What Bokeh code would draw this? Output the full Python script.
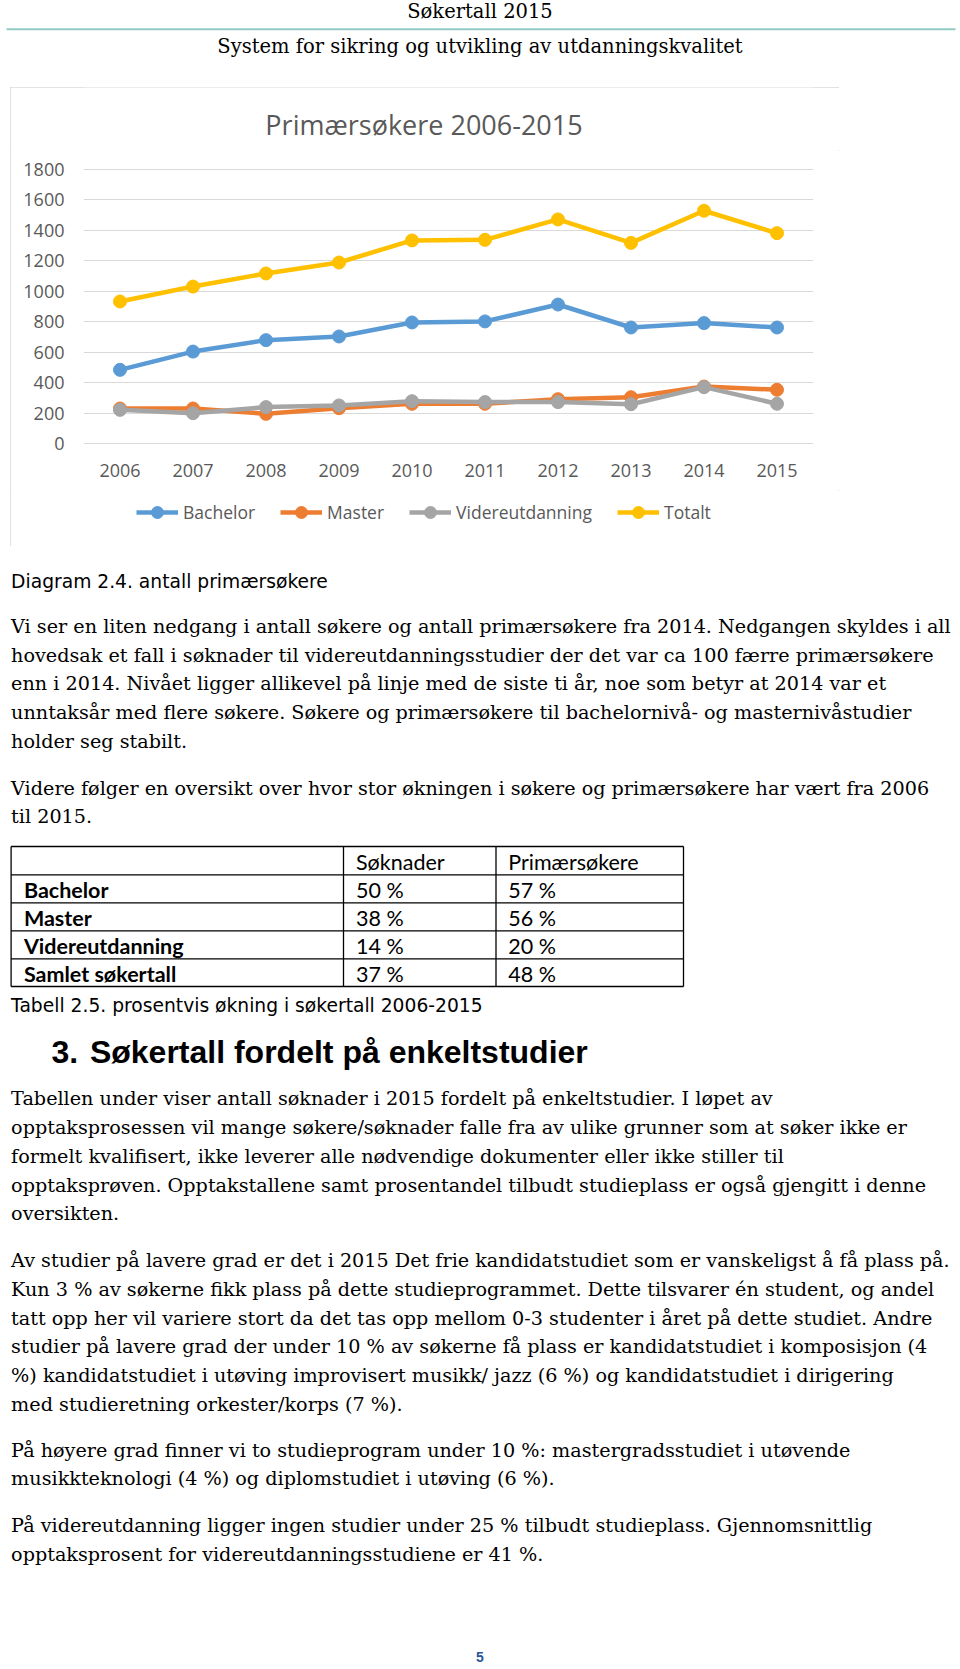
from bokeh.plotting import figure
from bokeh.models import (Range1d, FactorRange, Legend, LegendItem, SingleIntervalTicker)
from bokeh.layouts import column
from bokeh.embed import file_html
from bokeh.resources import INLINE
from bokeh.core.properties import value

# ---------------- data ----------------
years = ["2006", "2007", "2008", "2009", "2010", "2011", "2012", "2013", "2014", "2015"]
bachelor = [484, 604, 679, 703, 795, 802, 913, 762, 791, 762]
master = [230, 230, 195, 232, 261, 261, 291, 304, 374, 353]
videreutdanning = [221, 199, 239, 250, 278, 272, 272, 258, 370, 261]
totalt = [933, 1031, 1117, 1189, 1334, 1338, 1472, 1318, 1529, 1382]
series_names = ["Bachelor", "Master", "Videreutdanning", "Totalt"]
series_colors = ["#5B9BD5", "#ED7D31", "#A5A5A5", "#FFC000"]
chart_title = "Primærsøkere 2006-2015"

header_top = "Søkertall 2015"
header_sub = "System for sikring og utvikling av utdanningskvalitet"

diagram_caption = "Diagram 2.4. antall primærsøkere"
para1 = [
    "Vi ser en liten nedgang i antall søkere og antall primærsøkere fra 2014. Nedgangen skyldes i all",
    "hovedsak et fall i søknader til videreutdanningsstudier der det var ca 100 færre primærsøkere",
    "enn i 2014. Nivået ligger allikevel på linje med de siste ti år, noe som betyr at 2014 var et",
    "unntaksår med flere søkere. Søkere og primærsøkere til bachelornivå- og masternivåstudier",
    "holder seg stabilt.",
]
para2 = [
    "Videre følger en oversikt over hvor stor økningen i søkere og primærsøkere har vært fra 2006",
    "til 2015.",
]
table_cols = ["Søknader", "Primærsøkere"]
table_rows = ["Bachelor", "Master", "Videreutdanning", "Samlet søkertall"]
table_soknader = [50, 38, 14, 37]
table_primaer = [57, 56, 20, 48]
table_caption = "Tabell 2.5. prosentvis økning i søkertall 2006-2015"
heading_num = "3."
heading_text = "Søkertall fordelt på enkeltstudier"
para3 = [
    "Tabellen under viser antall søknader i 2015 fordelt på enkeltstudier. I løpet av",
    "opptaksprosessen vil mange søkere/søknader falle fra av ulike grunner som at søker ikke er",
    "formelt kvalifisert, ikke leverer alle nødvendige dokumenter eller ikke stiller til",
    "opptaksprøven.  Opptakstallene samt prosentandel tilbudt studieplass er også gjengitt i denne",
    "oversikten.",
]
para4 = [
    "Av studier på lavere grad er det i 2015 Det frie kandidatstudiet som er vanskeligst å få plass på.",
    "Kun 3 % av søkerne fikk plass på dette studieprogrammet. Dette tilsvarer én student, og andel",
    "tatt opp her vil variere stort da det tas opp mellom 0-3 studenter i året på dette studiet. Andre",
    "studier på lavere grad der under 10 % av søkerne få plass er kandidatstudiet i komposisjon (4",
    "%) kandidatstudiet i utøving improvisert musikk/ jazz (6 %) og kandidatstudiet i dirigering",
    "med studieretning orkester/korps (7 %).",
]
para5 = [
    "På høyere grad finner vi to studieprogram under 10 %: mastergradsstudiet i utøvende",
    "musikkteknologi (4 %) og diplomstudiet i utøving (6 %).",
]
para6 = [
    "På videreutdanning ligger ingen studier under 25 % tilbudt studieplass. Gjennomsnittlig",
    "opptaksprosent for videreutdanningsstudiene er 41 %.",
]
page_number = "5"

# ---------------- layout constants ----------------
W = 960
BODY_FONT = "DejaVu Serif"
BODY_SIZE = "19.2px"
CAPTION_FONT = "DejaVu Sans"
CAPTION_SIZE = "18.7px"
TABLE_FONT = "Lato"
TABLE_SIZE = "21.5px"
LEAD = 28.72
CHART_TXT = "#595959"
CHART_W = 829
BORDER_L, BORDER_R = 73, 26


def page_fig(height, y_top):
    f = figure(width=W, height=height, x_range=Range1d(0, W),
               y_range=Range1d(y_top + height, y_top), output_backend="svg",
               toolbar_location=None, min_border=0)
    f.axis.visible = False
    f.grid.visible = False
    f.outline_line_color = None
    return f


def write(f, x, y, texts, font, size, color="#000000", style="normal", align="left"):
    f.text(x=x, y=y, text=texts, text_font=value(font), text_font_size=size,
           text_color=color, text_font_style=style, text_align=align,
           text_baseline="middle")


def paragraph(f, lines, first_center):
    ys = [first_center + i * LEAD for i in range(len(lines))]
    write(f, [10.6] * len(lines), ys, lines, BODY_FONT, BODY_SIZE)


# ---------------- header (page y 0..87) ----------------
f1 = page_fig(87, 0)
write(f1, [479.5], [10.6], [header_top], BODY_FONT, "19.5px", align="center")
f1.segment(x0=[6], y0=[28.7], x1=[955], y1=[28.7], line_color="#93cbc4", line_width=2)
write(f1, [479.5], [45.5], [header_sub], BODY_FONT, "19.5px", align="center")

# ---------------- chart title strip (page y 87..150) ----------------
f_title = figure(width=CHART_W, height=63, x_range=Range1d(83, 813),
                 y_range=Range1d(150, 87), output_backend="svg", toolbar_location=None,
                 min_border_left=BORDER_L, min_border_right=BORDER_R,
                 min_border_top=0, min_border_bottom=0)
f_title.axis.visible = False
f_title.grid.visible = False
f_title.outline_line_color = None
write(f_title, [423.5], [123.5], [chart_title], "Open Sans", "27px", color=CHART_TXT,
      align="center")

# ---------------- chart plot (page y 150..490) ----------------
p = figure(width=CHART_W, height=340, x_range=FactorRange(*years),
           y_range=Range1d(-6.57, 1806.57), output_backend="svg",
           toolbar_location=None, min_border_left=BORDER_L, min_border_right=BORDER_R,
           min_border_top=18, min_border_bottom=46)
p.title.visible = False
p.outline_line_color = None
p.xgrid.visible = False
p.ygrid.grid_line_color = "#d9d9d9"
p.ygrid.grid_line_width = 1
p.yaxis.ticker = SingleIntervalTicker(interval=200, num_minor_ticks=0)
for ax in (p.xaxis, p.yaxis):
    ax.axis_line_color = None
    ax.major_tick_line_color = None
    ax.minor_tick_line_color = None
    ax.major_tick_out = 0
    ax.major_tick_in = 0
    ax.major_label_text_font = "Open Sans"
    ax.major_label_text_font_size = "18px"
    ax.major_label_text_color = CHART_TXT
p.yaxis.major_label_standoff = 19
p.xaxis.major_label_standoff = 19

series_values = [bachelor, master, videreutdanning, totalt]
for vals, col in zip(series_values, series_colors):
    p.line(years, vals, line_width=4.5, line_color=col, line_cap="round", line_join="round")
    p.scatter(years, vals, size=13, fill_color=col, line_color=col)

# ---------------- legend strip (page y 490..546) ----------------
# the legend's proxy renderers carry the same series, but lie outside this strip's y-range
f_leg = figure(width=CHART_W, height=56, x_range=FactorRange(*years),
               y_range=Range1d(-20, -10), output_backend="svg", toolbar_location=None,
               min_border_left=BORDER_L, min_border_right=BORDER_R,
               min_border_top=0, min_border_bottom=0)
f_leg.axis.visible = False
f_leg.grid.visible = False
f_leg.outline_line_color = None
items = []
for name, vals, col in zip(series_names, series_values, series_colors):
    lr = f_leg.line(years, vals, line_width=4.5, line_color=col)
    sr = f_leg.scatter(years, vals, size=13, fill_color=col, line_color=col)
    items.append(LegendItem(label=name, renderers=[lr, sr]))
legend = Legend(items=items, orientation="horizontal", location=(53, 19),
                glyph_width=42, glyph_height=30, label_height=20, label_standoff=5,
                spacing=25, padding=0, margin=0, border_line_color=None,
                background_fill_alpha=0, label_text_font="Open Sans",
                label_text_font_size="17.5px", label_text_color=CHART_TXT)
f_leg.add_layout(legend)

chart_box = column(f_title, p, f_leg, spacing=0, width=CHART_W, height=459)
chart_box.styles = {"outline": "1px solid #d9d9d9", "outline-offset": "-1px",
                    "margin-left": "10px"}

# ---------------- body (page y 546..1669) ----------------
f3 = page_fig(1123, 546)
write(f3, [10.6], [581], [diagram_caption], CAPTION_FONT, CAPTION_SIZE)
paragraph(f3, para1, 625.8)
paragraph(f3, para2, 787.6)

# table
tl, tc1, tc2, tr = 10.6, 343.0, 495.5, 683.0
row_lines = [846, 874.3, 902.3, 930.3, 958.3, 986]
f3.segment(x0=[tl] * len(row_lines), y0=row_lines, x1=[tr] * len(row_lines), y1=row_lines,
           line_color="#000000", line_width=1.3)
f3.segment(x0=[tl, tc1, tc2, tr], y0=[846] * 4, x1=[tl, tc1, tc2, tr], y1=[986] * 4,
           line_color="#000000", line_width=1.3)
row_centers = [(row_lines[i] + row_lines[i + 1]) / 2 + 1 for i in range(5)]
write(f3, [355.5, 507.7], [row_centers[0]] * 2, table_cols, TABLE_FONT, TABLE_SIZE)
write(f3, [23.4] * 4, row_centers[1:], table_rows, TABLE_FONT, TABLE_SIZE, style="bold")
write(f3, [355.5] * 4, row_centers[1:], [f"{v} %" for v in table_soknader], TABLE_FONT,
      TABLE_SIZE)
write(f3, [507.7] * 4, row_centers[1:], [f"{v} %" for v in table_primaer], TABLE_FONT,
      TABLE_SIZE)
write(f3, [10.6], [1004.7], [table_caption], CAPTION_FONT, CAPTION_SIZE)

write(f3, [51], [1051.5], [heading_num], "Liberation Sans", "32px", style="bold")
write(f3, [89.4], [1051.5], [heading_text], "Liberation Sans", "32px", style="bold")

paragraph(f3, para3, 1098.4)
paragraph(f3, para4, 1260.1)
paragraph(f3, para5, 1449.6)
paragraph(f3, para6, 1525.1)

write(f3, [479.5], [1656], [page_number], "Liberation Sans", "14px", color="#2a5597",
      style="bold", align="center")

# separate roots stacked on the page (no frame alignment between page parts)
open("out.html", "w").write(file_html([f1, chart_box, f3], INLINE))
